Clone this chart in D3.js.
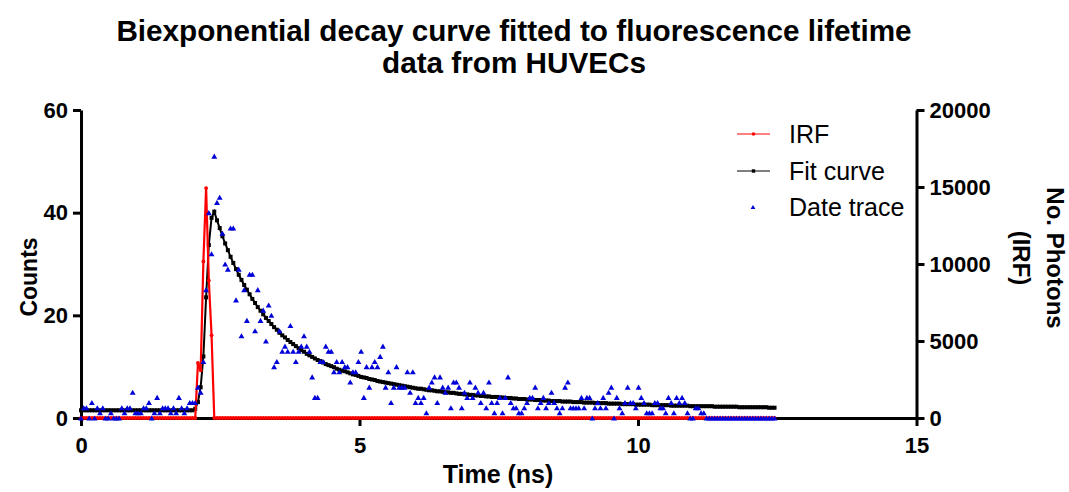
<!DOCTYPE html>
<html lang="en">
<head>
<meta charset="utf-8">
<script src="https://cdn.jsdelivr.net/npm/d3@7"></script>
<style>
  body { margin: 0; background: #fff; }
  text { font-family: "Liberation Sans", Arial, sans-serif; }
</style>
</head>
<body>
<script>
// photon counts per channel (data trace, left axis)
var counts = [
  0,2,2,0,3,0,2,1,2,0,
  0,1,0,0,0,2,1,2,2,5,
  1,1,1,2,2,3,0,1,4,1,
  2,2,2,1,2,1,4,2,1,2,
  3,3,3,6,5,11,25,40,32,51,
  42,43,36,30,29,37,37,23,29,16,
  25,19,28,28,17,25,19,21,15,22,
  20,10,11,17,13,14,13,18,13,11,
  13,14,16,14,13,8,4,4,11,11,
  14,13,13,9,11,9,11,10,10,7,
  9,9,11,13,4,10,6,10,11,10,
  12,14,6,9,3,6,10,6,6,6,
  9,5,9,3,4,3,4,1,6,7,
  8,3,8,6,5,6,2,7,7,6,
  2,5,4,7,4,6,5,3,5,2,
  7,3,1,3,4,1,4,8,3,2,
  2,1,1,2,3,4,4,6,2,3,
  4,2,3,5,3,2,1,2,6,7,
  2,2,2,2,4,2,4,4,0,2,
  3,2,4,2,5,6,0,4,2,1,
  3,6,3,3,2,6,4,3,1,1,
  1,3,3,2,2,1,4,3,1,4,
  3,4,3,1,0,0,2,2,1,1,
  0,0,0,0,0,0,0,0,0,0,
  0,0,0,0,0,0,0,0,0,0,
  0,0,0,0,0,0
];

// biexponential fit (left axis)
var fitCurve = [
  1.5,1.5,1.5,1.5,1.5,1.5,1.5,1.5,1.5,1.5,
  1.5,1.5,1.5,1.5,1.5,1.5,1.5,1.5,1.5,1.5,
  1.5,1.5,1.5,1.5,1.5,1.5,1.5,1.5,1.5,1.5,
  1.5,1.5,1.5,1.5,1.5,1.5,1.5,1.5,1.5,1.5,
  1.5,1.5,1.8,3.1,6.0,12.0,23.5,33.7,39.0,40.2,
  38.5,37.0,35.4,34.0,32.7,31.4,30.2,29.0,27.9,26.9,
  25.9,25.0,24.1,23.2,22.4,21.6,20.9,20.2,19.5,18.9,
  18.3,17.7,17.2,16.6,16.1,15.7,15.2,14.8,14.4,14.0,
  13.6,13.2,12.9,12.5,12.2,11.9,11.6,11.3,11.1,10.8,
  10.5,10.3,10.1,9.9,9.6,9.4,9.2,9.1,8.9,8.7,
  8.5,8.4,8.2,8.0,7.9,7.8,7.6,7.5,7.4,7.2,
  7.1,7.0,6.9,6.8,6.7,6.6,6.5,6.4,6.3,6.2,
  6.1,6.0,5.9,5.8,5.7,5.7,5.6,5.5,5.4,5.4,
  5.3,5.2,5.2,5.1,5.0,5.0,4.9,4.9,4.8,4.7,
  4.7,4.6,4.6,4.5,4.5,4.4,4.4,4.3,4.3,4.2,
  4.2,4.1,4.1,4.1,4.0,4.0,3.9,3.9,3.9,3.8,
  3.8,3.7,3.7,3.7,3.6,3.6,3.6,3.5,3.5,3.5,
  3.4,3.4,3.4,3.3,3.3,3.3,3.3,3.2,3.2,3.2,
  3.2,3.1,3.1,3.1,3.1,3.0,3.0,3.0,3.0,2.9,
  2.9,2.9,2.9,2.9,2.8,2.8,2.8,2.8,2.8,2.7,
  2.7,2.7,2.7,2.7,2.6,2.6,2.6,2.6,2.6,2.6,
  2.5,2.5,2.5,2.5,2.5,2.5,2.5,2.4,2.4,2.4,
  2.4,2.4,2.4,2.4,2.3,2.3,2.3,2.3,2.3,2.3,
  2.3,2.3,2.3,2.2,2.2,2.2,2.2,2.2,2.2,2.2,
  2.2,2.2,2.1,2.1,2.1,2.1,2.1,2.1,2.1,2.1,
  2.1,2.1,2.1,2.0,2.0,2.0
];

// instrument response, photons (right axis)
var irfPhotons = [
  0,0,0,0,0,0,0,0,0,0,
  0,0,0,0,0,0,0,0,0,0,
  0,0,0,0,0,0,0,0,0,0,
  0,0,0,0,0,0,0,0,0,0,
  0,0,0,3570,3100,10170,14930,8930,5370,0,
  0,0,0,0,0,0,0,0,0,0,
  0,0,0,0,0,0,0,0,0,0,
  0,0,0,0,0,0,0,0,0,0,
  0,0,0,0,0,0,0,0,0,0,
  0,0,0,0,0,0,0,0,0,0,
  0,0,0,0,0,0,0,0,0,0,
  0,0,0,0,0,0,0,0,0,0,
  0,0,0,0,0,0,0,0,0,0,
  0,0,0,0,0,0,0,0,0,0,
  0,0,0,0,0,0,0,0,0,0,
  0,0,0,0,0,0,0,0,0,0,
  0,0,0,0,0,0,0,0,0,0,
  0,0,0,0,0,0,0,0,0,0,
  0,0,0,0,0,0,0,0,0,0,
  0,0,0,0,0,0,0,0,0,0,
  0,0,0,0,0,0,0,0,0,0,
  0,0,0,0,0,0,0,0,0,0,
  0,0,0,0,0,0,0,0,0,0,
  0,0,0,0,0,0,0,0,0,0,
  0,0,0,0,0,0,0,0,0,0,
  0,0,0,0,0,0
];

var channelWidth = 12.5 / 256;   // ns per channel
var xTicks = [0, 5, 10, 15];
var countTicks = [0, 20, 40, 60];
var photonTicks = [0, 5000, 10000, 15000, 20000];
var titleLines = ["Biexponential decay curve fitted to fluorescence lifetime", "data from HUVECs"];
var legendLabels = ["IRF", "Fit curve", "Date trace"];

var width = 1069, height = 492;
var blue = "#0000d8";

var svg = d3.select("body").append("svg")
    .attr("width", width)
    .attr("height", height);

var x = d3.scaleLinear().domain([0, 15]).range([81, 916.5]);
var yCounts = d3.scaleLinear().domain([0, 60]).range([418, 110]);
var yPhotons = d3.scaleLinear().domain([0, 20000]).range([418, 110]);

function tidyAxis(g) {
  g.attr("font-size", 22).attr("font-weight", "bold");
  g.selectAll("path, line").attr("stroke", "#000").attr("stroke-width", 3);
  g.selectAll("text").attr("fill", "#000");
}

svg.append("g")
    .attr("transform", "translate(81,0)")
    .call(d3.axisLeft(yCounts).tickValues(countTicks).tickSize(8).tickSizeOuter(0).tickPadding(5))
    .call(tidyAxis);

svg.append("g")
    .attr("transform", "translate(916.5,0)")
    .call(d3.axisRight(yPhotons).tickValues(photonTicks).tickFormat(d3.format("d"))
      .tickSize(8).tickSizeOuter(0).tickPadding(5))
    .call(tidyAxis);

svg.append("g")
    .attr("transform", "translate(0,418)")
    .call(d3.axisBottom(x).tickValues(xTicks).tickSize(8).tickSizeOuter(0).tickPadding(11))
    .call(tidyAxis);

// fit curve
var fitLine = d3.line()
    .x(function(d, i) { return x(i * channelWidth); })
    .y(function(d) { return yCounts(d); });

svg.append("path")
    .datum(fitCurve)
    .attr("d", fitLine)
    .attr("fill", "none")
    .attr("stroke", "#000")
    .attr("stroke-width", 2);

svg.append("g").selectAll("rect")
    .data(fitCurve)
    .enter().append("rect")
    .attr("x", function(d, i) { return x(i * channelWidth) - 2; })
    .attr("y", function(d) { return yCounts(d) - 2; })
    .attr("width", 4)
    .attr("height", 4)
    .attr("fill", "#000");

// IRF
var irfLine = d3.line()
    .x(function(d, i) { return x(i * channelWidth); })
    .y(function(d) { return yPhotons(d); });

svg.append("path")
    .datum(irfPhotons)
    .attr("d", irfLine)
    .attr("fill", "none")
    .attr("stroke", "#ff0000")
    .attr("stroke-width", 2.2);

svg.append("g").selectAll("circle")
    .data(irfPhotons)
    .enter().append("circle")
    .attr("cx", function(d, i) { return x(i * channelWidth); })
    .attr("cy", function(d) { return yPhotons(d); })
    .attr("r", 1.9)
    .attr("fill", "#ff0000");

// data trace
var tri = d3.symbol().type(d3.symbolTriangle).size(15);

svg.append("g").selectAll("path")
    .data(counts)
    .enter().append("path")
    .attr("d", tri)
    .attr("transform", function(d, i) {
      return "translate(" + x(i * channelWidth) + "," + (yCounts(d) + 0.8) + ")";
    })
    .attr("fill", blue);

// title
svg.append("g").selectAll("text")
    .data(titleLines)
    .enter().append("text")
    .attr("x", 514)
    .attr("y", function(d, i) { return 41 + i * 32; })
    .attr("text-anchor", "middle")
    .attr("font-size", 29.7)
    .attr("font-weight", "bold")
    .text(function(d) { return d; });

// axis titles
svg.append("text")
    .attr("x", 498)
    .attr("y", 483)
    .attr("text-anchor", "middle")
    .attr("font-size", 25)
    .attr("font-weight", "bold")
    .text("Time (ns)");

svg.append("text")
    .attr("transform", "translate(37,277) rotate(-90)")
    .attr("text-anchor", "middle")
    .attr("font-size", 23)
    .attr("font-weight", "bold")
    .text("Counts");

svg.append("text")
    .attr("transform", "translate(1047,258) rotate(90)")
    .attr("text-anchor", "middle")
    .attr("font-size", 24)
    .attr("font-weight", "bold")
    .text("No. Photons");

svg.append("text")
    .attr("transform", "translate(1013,258) rotate(90)")
    .attr("text-anchor", "middle")
    .attr("font-size", 24)
    .attr("font-weight", "bold")
    .text("(IRF)");

// legend
var legend = svg.append("g").attr("transform", "translate(737,0)");
var rowY = [134, 171, 207];

legend.append("line").attr("x1", 0).attr("x2", 33).attr("y1", rowY[0]).attr("y2", rowY[0])
    .attr("stroke", "#ff0000").attr("stroke-width", 1);
legend.append("circle").attr("cx", 16.5).attr("cy", rowY[0]).attr("r", 1.8).attr("fill", "#ff0000");

legend.append("line").attr("x1", 0).attr("x2", 33).attr("y1", rowY[1]).attr("y2", rowY[1])
    .attr("stroke", "#000").attr("stroke-width", 1);
legend.append("rect").attr("x", 14.8).attr("y", rowY[1] - 1.7).attr("width", 3.4).attr("height", 3.4).attr("fill", "#000");

legend.append("path").attr("d", d3.symbol().type(d3.symbolTriangle).size(10))
    .attr("transform", "translate(16," + (rowY[2] + 0.7) + ")")
    .attr("fill", blue);

legend.selectAll(".lab")
    .data(legendLabels)
    .enter().append("text")
    .attr("class", "lab")
    .attr("x", 52)
    .attr("y", function(d, i) { return rowY[i]; })
    .attr("dy", "0.35em")
    .attr("font-size", 25)
    .text(function(d) { return d; });
</script>
</body>
</html>
